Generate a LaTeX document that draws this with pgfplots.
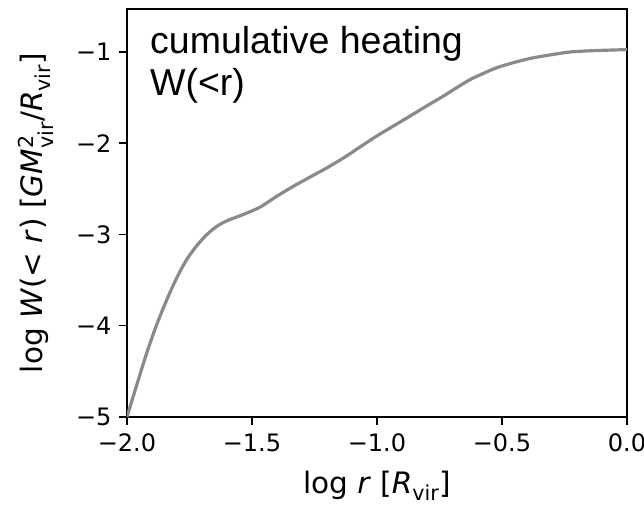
\documentclass[border=0pt]{standalone}
\usepackage{fontspec}
\setmainfont{DejaVu Sans}
\newfontfamily\arial{Liberation Sans}
\usepackage{amsmath}
\usepackage{pgfplots}
\pgfplotsset{compat=1.18}
\definecolor{curve}{RGB}{138,138,138}
\pgfplotstableread{
x y
-2.000 -5.00
-1.960 -4.64
-1.920 -4.29
-1.880 -3.98
-1.840 -3.71
-1.800 -3.47
-1.760 -3.27
-1.720 -3.12
-1.680 -3.00
-1.640 -2.91
-1.600 -2.85
-1.534 -2.78
-1.467 -2.70
-1.400 -2.58
-1.333 -2.47
-1.267 -2.37
-1.200 -2.27
-1.133 -2.16
-1.067 -2.04
-1.000 -1.92
-0.933 -1.81
-0.866 -1.70
-0.800 -1.59
-0.732 -1.48
-0.680 -1.39
-0.625 -1.30
-0.570 -1.23
-0.518 -1.17
-0.450 -1.115
-0.385 -1.07
-0.300 -1.03
-0.224 -1.00
-0.120 -0.985
0.000 -0.975
}\heating
\begin{document}
\begin{tikzpicture}
\useasboundingbox (-127pt,-88pt) rectangle (517pt,417pt);
\begin{axis}[
  scale only axis, width=500pt, height=408pt,
  at={(0,0)}, anchor=south west,
  xmin=-2, xmax=0, ymin=-5, ymax=-0.53,
  xtick={-2,-1.5,-1,-0.5,0}, xticklabels={−2.0,−1.5,−1.0,−0.5,0.0},
  ytick={-5,-4,-3,-2,-1}, yticklabels={−5,−4,−3,−2,−1},
  tick align=outside, tick pos=left, major tick length=8pt,
  every tick/.style={black, line width=1.5pt},
  axis line style={line width=1.5pt},
  ticklabel style={font=\fontsize{24}{28}\selectfont},
  xticklabel style={yshift=-5pt},
  yticklabel style={xshift=-4pt},
  label style={font=\fontsize{29.5}{34}\selectfont},
  xlabel={log \textit{r} [\textit{R}$_{\text{vir}}$]},
  ylabel={log \textit{W}(< \textit{r}) [\textit{GM}$^{\text{2}}_{\text{vir}}$/\textit{R}$_{\text{vir}}$]},
  xlabel style={at={(axis description cs:0.5,0)}, anchor=base, yshift=-76pt},
  ylabel style={at={(axis description cs:0,0.5)}, anchor=base, yshift=84pt},
]
\addplot[curve, line width=3.2pt, smooth] table {\heating};
\node[anchor=base west, inner sep=0, font=\arial\fontsize{37.5}{42}\selectfont] at (rel axis cs:0,1) [xshift=23pt, yshift=-45pt] {cumulative heating};
\node[anchor=base west, inner sep=0, font=\arial\fontsize{37.5}{42}\selectfont] at (rel axis cs:0,1) [xshift=23pt, yshift=-87pt] {W(<r)};
\end{axis}
\end{tikzpicture}
\end{document}
